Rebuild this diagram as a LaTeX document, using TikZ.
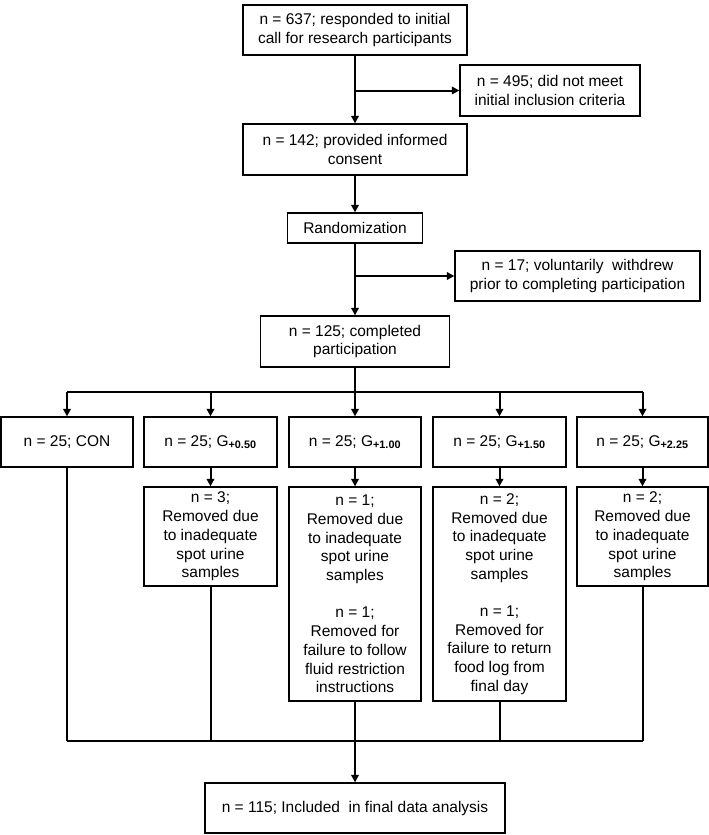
\documentclass[tikz,border=0pt]{standalone}
\usepackage{fontspec}
\setmainfont{Liberation Sans}
\usetikzlibrary{arrows.meta}
\newcommand{\sub}[1]{\textsubscript{\textbf{#1}}}
\begin{document}
\begin{tikzpicture}[x=1pt,y=-1pt,
  box/.style={draw=black, line width=1.3pt, rectangle, align=center, inner sep=0pt,
    font=\fontsize{15.5}{18.7}\selectfont, fill=white},
  conn/.style={line width=2pt},
  arr/.style={line width=2pt, -{Triangle[length=7.5pt,width=7.5pt]}}]
\useasboundingbox[fill=white] (0,0) rectangle (709,835);
% top chain
\node[box, minimum width=224pt, minimum height=50pt] (b1) at (355,30)
  {n = 637; responded to initial\\call for research participants};
\node[box, minimum width=180pt, minimum height=51pt] (b495) at (550,90.5)
  {n = 495; did not meet\\initial inclusion criteria};
\node[box, minimum width=224pt, minimum height=51pt] (b142) at (355,149.5)
  {n = 142; provided informed\\consent};
\node[box, minimum width=135pt, minimum height=30pt] (rand) at (355,228)
  {Randomization};
\node[box, minimum width=245pt, minimum height=50pt] (b17) at (577.5,276)
  {n = 17; voluntarily\ \ withdrew\\prior to completing participation};
\node[box, minimum width=189pt, minimum height=51pt] (b125) at (355,341.5)
  {n = 125; completed\\participation};
% groups
\node[box, minimum width=132pt, minimum height=50pt] (g1) at (67,442) {n = 25; CON};
\node[box, minimum width=133pt, minimum height=50pt] (g2) at (210.5,442) {n = 25; G\sub{+0.50}};
\node[box, minimum width=132pt, minimum height=50pt] (g3) at (355,442) {n = 25; G\sub{+1.00}};
\node[box, minimum width=133pt, minimum height=50pt] (g4) at (499.5,442) {n = 25; G\sub{+1.50}};
\node[box, minimum width=131pt, minimum height=50pt] (g5) at (642.5,442) {n = 25; G\sub{+2.25}};
% removals
\node[box, minimum width=133pt, minimum height=99pt] (r2) at (210.5,536.5)
  {n = 3;\\Removed due\\to inadequate\\spot urine\\samples};
\node[box, minimum width=132pt, minimum height=214pt] (r3) at (355,594)
  {n = 1;\\Removed due\\to inadequate\\spot urine\\samples\\[18.7pt]n = 1;\\Removed for\\failure to follow\\fluid restriction\\instructions};
\node[box, minimum width=133pt, minimum height=214pt] (r4) at (499.5,594)
  {n = 2;\\Removed due\\to inadequate\\spot urine\\samples\\[18.7pt]n = 1;\\Removed for\\failure to return\\food log from\\final day};
\node[box, minimum width=131pt, minimum height=99pt] (r5) at (642.5,536.5)
  {n = 2;\\Removed due\\to inadequate\\spot urine\\samples};
% final
\node[box, minimum width=300pt, minimum height=50pt] (fin) at (355,808)
  {n = 115; Included\ \ in final data analysis};
% coordinates
\coordinate (bus) at (355,392);
\coordinate (bus2) at (355,741);
% connectors top
\draw[arr] (b1) -- (b142);
\draw[arr] (b1.south |- b495.west) -- (b495.west);
\draw[arr] (b142) -- (rand);
\draw[arr] (rand) -- (b125);
\draw[arr] (rand.south |- b17.west) -- (b17.west);
\draw[conn] (b125.south) -- (bus);
\draw[conn] (g1.north |- bus) -- (g5.north |- bus);
\foreach \g in {g1,g2,g3,g4,g5} \draw[arr] (\g.north |- bus) -- (\g.north);
\foreach \g/\r in {g2/r2,g3/r3,g4/r4,g5/r5} \draw[arr] (\g.south) -- (\r.north);
% bottom
\draw[conn] (g1.south) -- (g1.south |- bus2);
\foreach \r in {r2,r3,r4,r5} \draw[conn] (\r.south) -- (\r.south |- bus2);
\draw[conn] (g1.south |- bus2) -- (r5.south |- bus2);
\draw[arr] (bus2) -- (fin.north);
\end{tikzpicture}
\end{document}
